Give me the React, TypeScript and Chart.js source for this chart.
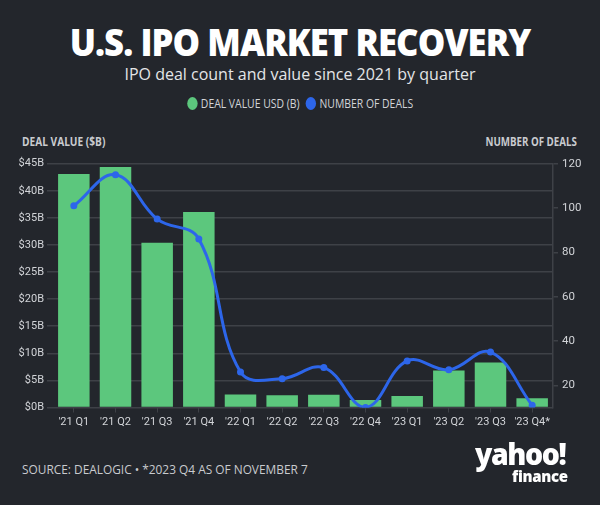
import React, { useEffect, useRef } from "react";
import { Chart, registerables } from "chart.js";

Chart.register(...registerables);

const categories = ["'21 Q1", "'21 Q2", "'21 Q3", "'21 Q4", "'22 Q1", "'22 Q2", "'22 Q3", "'22 Q4", "'23 Q1", "'23 Q2", "'23 Q3", "'23 Q4*"];
const dealValue = [43.1, 44.4, 30.4, 36.1, 2.4, 2.25, 2.35, 1.4, 2.1, 6.85, 8.3, 1.7];
const dealCount = [101, 115, 95, 86, 26, 23, 28, 10, 31, 27, 35, 11];
const leftTicks = [0, 5, 10, 15, 20, 25, 30, 35, 40, 45];
const rightTicks = [20, 40, 60, 80, 100, 120];

const BG = "#23262c";
const GREEN = "#5cc77d";
const BLUE = "#2d66ea";
const TEXT = "#d2d4d8";
const GRID = "#3e4147";
const TICKFONT = "'Roboto', sans-serif";

export default function App() {
  const ref = useRef<HTMLCanvasElement | null>(null);
  useEffect(() => {
    document.body.style.margin = "0";
    const ctx = ref.current!.getContext("2d")!;
    const chart = new Chart(ctx, {
      type: "bar",
      data: {
        labels: categories,
        datasets: [
          {
            type: "line",
            label: "NUMBER OF DEALS",
            data: dealCount,
            yAxisID: "y1",
            borderColor: BLUE,
            backgroundColor: BLUE,
            borderWidth: 3,
            pointRadius: 3.5,
            pointBackgroundColor: BLUE,
            pointBorderWidth: 0,
            tension: 0.4,
            order: 0,
          } as any,
          {
            type: "bar",
            label: "DEAL VALUE USD (B)",
            data: dealValue,
            yAxisID: "y",
            backgroundColor: GREEN,
            categoryPercentage: 0.84,
            barPercentage: 0.9,
            order: 1,
          },
        ],
      },
      options: {
        animation: false,
        responsive: false,
        maintainAspectRatio: false,
        layout: { padding: { top: 23.7, left: 0, right: 0, bottom: 0 } },
        plugins: { legend: { display: false }, tooltip: { enabled: false } },
        scales: {
          x: {
            grid: { display: true, drawOnChartArea: false, offset: false, tickLength: 5, color: GRID },
            border: { display: false },
            ticks: { color: TEXT, font: { family: TICKFONT, size: 11 }, padding: 3, maxRotation: 0, autoSkip: false },
            afterFit: (s: any) => { s.height = 32.5; },
          },
          y: {
            position: "left",
            min: 0,
            max: 45,
            afterBuildTicks: (s: any) => { s.ticks = leftTicks.map((v) => ({ value: v })); },
            grid: { color: GRID, lineWidth: 1.5, tickLength: 6 },
            border: { display: false },
            ticks: { color: TEXT, font: { family: TICKFONT, size: 11 }, padding: 3, callback: (v: any) => "$" + v + "B" },
            afterFit: (s: any) => { s.width = 53; },
          },
          y1: {
            position: "right",
            min: 10,
            max: 120,
            afterBuildTicks: (s: any) => { s.ticks = rightTicks.map((v) => ({ value: v })); },
            grid: { drawOnChartArea: false, color: GRID, lineWidth: 1.5, tickLength: 5 },
            border: { display: true, color: GRID, width: 1.5 },
            ticks: { color: TEXT, font: { family: TICKFONT, size: 11.5 }, padding: 4 },
            afterFit: (s: any) => { s.width = 47; },
          },
        },
      },
    });
    return () => chart.destroy();
  }, []);

  const abs = (o: any): React.CSSProperties => ({ position: "absolute", ...o });
  const narrow = (sx: number, origin: string): React.CSSProperties => ({ display: "inline-block", transform: `scaleX(${sx})`, transformOrigin: origin, whiteSpace: "nowrap" });

  return (
    <div style={{ position: "relative", width: 600, height: 505, background: BG, overflow: "hidden", fontFamily: "'Open Sans', sans-serif" }}>
      <div style={abs({ left: 0, top: 20, width: 600, textAlign: "center", color: "#ffffff", fontSize: 37.5, fontWeight: 800, lineHeight: "44px", letterSpacing: -1 })}>
        <span style={narrow(0.925, "center")}>U.S. IPO MARKET RECOVERY</span>
      </div>
      <div style={abs({ left: 0, top: 63, width: 600, textAlign: "center", color: "#e4e5e7", fontSize: 16, lineHeight: "22px" })}>
        IPO deal count and value since 2021 by quarter
      </div>
      <div style={abs({ left: 0, top: 94, width: 600, textAlign: "center", color: TEXT, fontSize: 13, lineHeight: "18px" })}>
        <span style={narrow(0.8, "center")}>
          <span style={{ display: "inline-block", width: 13, height: 13, borderRadius: 7, background: GREEN, marginRight: 4, verticalAlign: "-2px" }} />
          <span style={{ marginRight: 8 }}>DEAL VALUE USD (B)</span>
          <span style={{ display: "inline-block", width: 13, height: 13, borderRadius: 7, background: BLUE, marginRight: 4, verticalAlign: "-2px" }} />
          <span>NUMBER OF DEALS</span>
        </span>
      </div>
      <div style={abs({ left: 22, top: 132, color: "#c9cbcf", fontWeight: 700, fontSize: 13, lineHeight: "18px" })}>
        <span style={narrow(0.78, "left")}>DEAL VALUE ($B)</span>
      </div>
      <div style={abs({ right: 23, top: 132, color: "#c9cbcf", fontWeight: 700, fontSize: 13, lineHeight: "18px" })}>
        <span style={narrow(0.75, "right")}>NUMBER OF DEALS</span>
      </div>
      <canvas ref={ref} width={600} height={300} style={abs({ left: 0, top: 140, width: 600, height: 300 })} />
      <div style={abs({ left: 22, top: 461, color: "#c9cbcf", fontSize: 12.5, lineHeight: "18px" })}>
        <span style={narrow(0.95, "left")}>SOURCE: DEALOGIC • *2023 Q4 AS OF NOVEMBER 7</span>
      </div>
      <div style={abs({ left: 475, top: 437, color: "#ffffff", fontWeight: 800, fontSize: 30, lineHeight: "34px", letterSpacing: -1.5 })}>
        <span style={narrow(0.95, "left")}>yahoo!</span>
      </div>
      <div style={abs({ left: 512, top: 466, color: "#ffffff", fontWeight: 800, fontSize: 15, lineHeight: "20px", letterSpacing: -0.3 })}>
        finance
      </div>
    </div>
  );
}
